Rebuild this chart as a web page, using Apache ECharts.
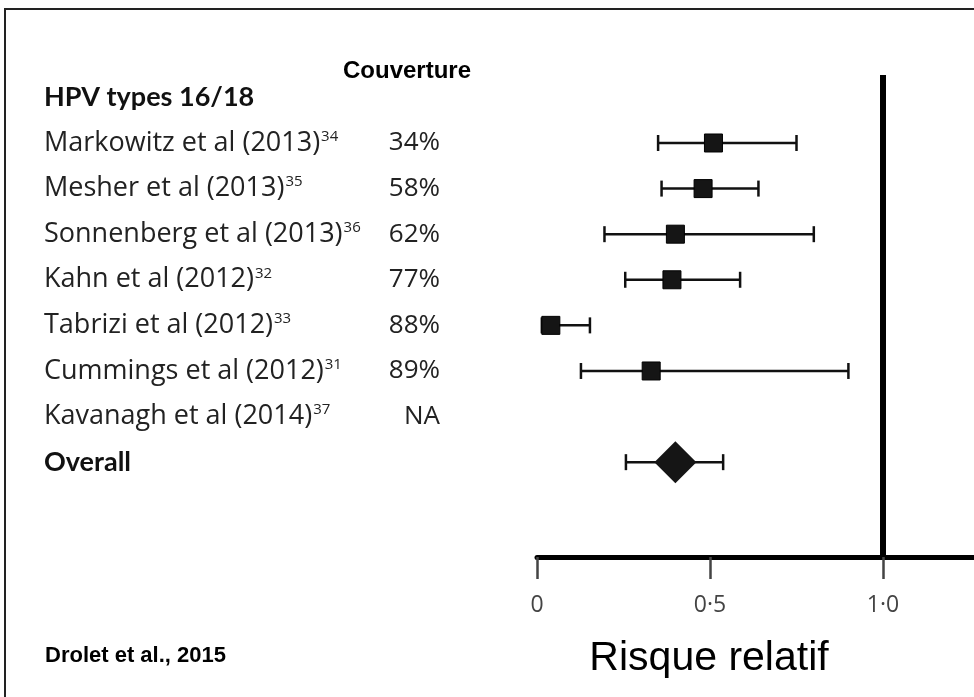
<!DOCTYPE html>
<html>
<head>
<meta charset="utf-8">
<script src="https://cdn.jsdelivr.net/npm/echarts@6/dist/echarts.min.js"></script>
<style>
html,body{margin:0;padding:0;background:#fff;}
#c{width:974px;height:697px;}
</style>
</head>
<body>
<div id="c"></div>
<script>
// ---- data ----
var studies = ['HPV types 16/18', 'Markowitz et al (2013)', 'Mesher et al (2013)', 'Sonnenberg et al (2013)', 'Kahn et al (2012)', 'Tabrizi et al (2012)', 'Cummings et al (2012)', 'Kavanagh et al (2014)', 'Overall'];
var refs = ['', '34', '35', '36', '32', '33', '31', '37', ''];
var boldRows = [0, 8];
var coverage = ['', '34%', '58%', '62%', '77%', '88%', '89%', 'NA', ''];
var estimate = [null, 0.51, 0.48, 0.40, 0.39, 0.04, 0.33, null, 0.40];
var lower    = [null, 0.35, 0.36, 0.195, 0.255, 0.014, 0.127, null, 0.257];
var upper    = [null, 0.75, 0.64, 0.80, 0.587, 0.153, 0.90, null, 0.538];
var xTicks = [0, 0.5, 1];
var refLine = 1;

// ---- build ----
var studyPts = [], barPts = [], overallPts = [];
for (var i = 0; i < studies.length; i++) {
  if (estimate[i] == null) continue;
  barPts.push([lower[i], upper[i], i]);
  if (i === 8) overallPts.push([estimate[i], i]);
  else studyPts.push([estimate[i], i]);
}
function rowIndex(v) {
  var i = Math.round(v);
  if (Math.abs(v - i) > 1e-6 || i < 0 || i >= studies.length) return -1;
  return i;
}
var labelFont = '"Open Sans"';

var chart = echarts.init(document.getElementById('c'), null, {renderer: 'canvas'});
var option = {
  animation: false,
  backgroundColor: '#fff',
  grid: {left: 537, right: 0, top: 51.8, bottom: 140, containLabel: false},
  xAxis: {
    type: 'value', min: 0, max: 1.263, interval: 0.5,
    splitLine: {show: false},
    axisLine: {show: true, onZero: false, lineStyle: {color: '#000', width: 5}},
    axisTick: {show: true, length: 22, lineStyle: {color: '#444', width: 2.5}, customValues: xTicks},
    axisLabel: {
      customValues: xTicks, margin: 37, fontFamily: labelFont, fontSize: 23, color: '#444',
      formatter: function (v) { return v === 0 ? '0' : v.toFixed(1).replace('.', '\u00b7'); }
    }
  },
  yAxis: [{
    type: 'value', inverse: true, min: -1, max: 10.08, interval: 1,
    splitLine: {show: false}, axisLine: {show: false}, axisTick: {show: false},
    axisLabel: {
      align: 'left', margin: 493, showMinLabel: true, showMaxLabel: true,
      formatter: function (v) {
        var i = rowIndex(v);
        if (i < 0) return '';
        if (boldRows.indexOf(i) >= 0) return '{b|' + studies[i] + '}';
        return '{n|' + studies[i] + '}' + (refs[i] ? '{s|' + refs[i] + '}' : '');
      },
      rich: {
        n: {fontFamily: labelFont, fontSize: 27, color: '#222'},
        b: {fontFamily: 'Lato', fontSize: 27, fontWeight: 'bold', color: '#111'},
        s: {fontFamily: labelFont, fontSize: 15, color: '#222', padding: [0, 0, 13, 1]}
      }
    }
  }, {
    type: 'value', inverse: true, min: -1, max: 10.08, interval: 1, position: 'left',
    splitLine: {show: false}, axisLine: {show: false}, axisTick: {show: false},
    axisLabel: {
      align: 'right', margin: 97, fontFamily: labelFont, fontSize: 26, color: '#222',
      formatter: function (v) { var i = rowIndex(v); return i < 0 ? '' : coverage[i]; }
    }
  }],
  series: [{
    type: 'custom',
    data: barPts,
    renderItem: function (params, api) {
      var a = api.coord([api.value(0), api.value(2)]);
      var b = api.coord([api.value(1), api.value(2)]);
      var st = {stroke: '#111', lineWidth: 2.5};
      return {type: 'group', children: [
        {type: 'line', shape: {x1: a[0], y1: a[1], x2: b[0], y2: b[1]}, style: st},
        {type: 'line', shape: {x1: a[0], y1: a[1] - 8, x2: a[0], y2: a[1] + 8}, style: st},
        {type: 'line', shape: {x1: b[0], y1: b[1] - 8, x2: b[0], y2: b[1] + 8}, style: st}
      ]};
    },
    z: 2
  }, {
    type: 'scatter', data: studyPts, symbol: 'rect', symbolSize: 18,
    itemStyle: {color: '#151515', opacity: 1, borderColor: '#000', borderWidth: 1}, z: 3,
    markLine: {
      silent: true, symbol: 'none', label: {show: false},
      lineStyle: {color: '#000', width: 6, type: 'solid', opacity: 1},
      data: [[{coord: [refLine, -0.49]}, {coord: [refLine, 10.08]}]]
    }
  }, {
    type: 'scatter', data: overallPts, symbol: 'diamond', symbolSize: [42, 42],
    itemStyle: {color: '#151515', opacity: 1}, z: 3
  }],
  graphic: [
    {type: 'rect', shape: {x: 5, y: 9, width: 1200, height: 1000}, style: {fill: 'none', stroke: '#222', lineWidth: 2}, silent: true},
    {type: 'text', x: 407, y: 71, style: {text: 'Couverture', font: 'bold 24px "Liberation Sans", Arial', fill: '#000', textAlign: 'center', textVerticalAlign: 'middle'}},
    {type: 'text', x: 45, y: 656, style: {text: 'Drolet et al., 2015', font: 'bold 22px "Liberation Sans", Arial', fill: '#000', textAlign: 'left', textVerticalAlign: 'middle'}},
    {type: 'text', x: 709, y: 659, style: {text: 'Risque relatif', font: '41px "Liberation Sans", Arial', fill: '#000', textAlign: 'center', textVerticalAlign: 'middle'}}
  ]
};
chart.setOption(option);
</script>
</body>
</html>
